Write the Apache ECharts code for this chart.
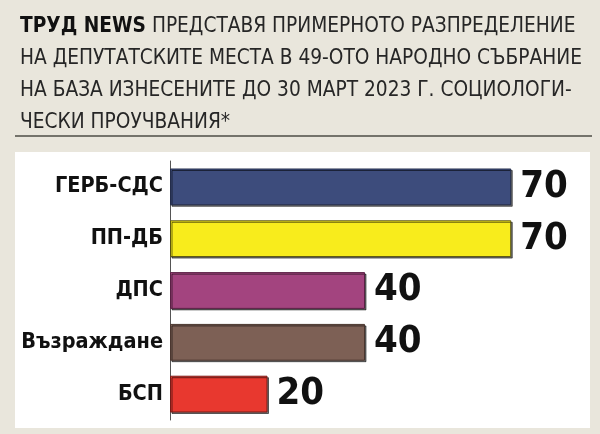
<!DOCTYPE html>
<html>
<head>
<meta charset="utf-8">
<script src="https://cdn.jsdelivr.net/npm/echarts@6/dist/echarts.min.js"></script>
<style>
  html, body { margin: 0; padding: 0; background: #e9e6dc; }
  #chart { width: 600px; height: 434px; }
</style>
</head>
<body>
<div id="chart"></div>
<script>
// партии и мандати
var parties = ['ГЕРБ-СДС', 'ПП-ДБ', 'ДПС', 'Възраждане', 'БСП'];
var seats = [70, 70, 40, 40, 20];
var barColors = ['#3d4c7c', '#f8ec1c', '#a3447f', '#7d6055', '#e8382f'];
var borderColors = ['#232c4a', '#5a5410', '#5a2045', '#4a362f', '#7a1c18'];

var titleLines = [
    '{b|ТРУД NEWS} ПРЕДСТАВЯ ПРИМЕРНОТО РАЗПРЕДЕЛЕНИЕ',
    'НА ДЕПУТАТСКИТЕ МЕСТА В 49-ОТО НАРОДНО СЪБРАНИЕ',
    'НА БАЗА ИЗНЕСЕНИТЕ ДО 30 МАРТ 2023 Г. СОЦИОЛОГИ-',
    'ЧЕСКИ ПРОУЧВАНИЯ*'
];

var narrow = '"Liberation Sans Narrow", "DejaVu Sans Condensed", sans-serif';

window.onload = function () {
    var chart = echarts.init(document.getElementById('chart'));

    var data = [];
    for (var i = 0; i < seats.length; i++) {
        data.push({
            value: seats[i],
            itemStyle: {
                color: barColors[i],
                borderColor: borderColors[i],
                borderWidth: 1,
                shadowColor: 'rgba(0,0,0,0.55)',
                shadowOffsetX: 1.5,
                shadowOffsetY: 1.5,
                shadowBlur: 0
            }
        });
    }

    var option = {
        backgroundColor: '#e9e6dc',
        animation: false,
        graphic: [
            //白色面板
            {
                type: 'rect',
                z: -10,
                shape: { x: 15, y: 152, width: 575, height: 276 },
                style: { fill: '#ffffff' }
            },
            //分隔线
            {
                type: 'line',
                shape: { x1: 15, y1: 136, x2: 592, y2: 136 },
                style: { stroke: '#74736b', lineWidth: 2 }
            }
        ],
        title: {
            left: 15,
            top: 6,
            text: titleLines.join('\n'),
            textStyle: {
                fontFamily: narrow,
                fontSize: 20.7,
                fontWeight: 'normal',
                color: '#262626',
                lineHeight: 32,
                rich: {
                    b: {
                        fontFamily: narrow,
                        fontSize: 20.7,
                        fontWeight: 'bold',
                        color: '#111',
                        lineHeight: 32
                    }
                }
            }
        },
        grid: {
            left: 170,
            right: 40,
            top: 161,
            bottom: 14,
            outerBoundsMode: 'none'
        },
        xAxis: {
            type: 'value',
            min: 0,
            max: 80,
            show: false
        },
        yAxis: {
            type: 'category',
            data: parties,
            inverse: true,
            axisLine: { show: true, lineStyle: { color: '#555', width: 1 } },
            axisTick: { show: false },
            axisLabel: {
                margin: 7,
                fontFamily: narrow,
                fontWeight: 'bold',
                fontSize: 21.5,
                color: '#111'
            }
        },
        series: [{
            type: 'bar',
            data: data,
            barCategoryGap: '29%',
            label: {
                show: true,
                position: 'right',
                distance: 9,
                fontFamily: narrow,
                fontWeight: 'bold',
                fontSize: 38,
                color: '#111'
            }
        }]
    };
    chart.setOption(option);
};
</script>
</body>
</html>
